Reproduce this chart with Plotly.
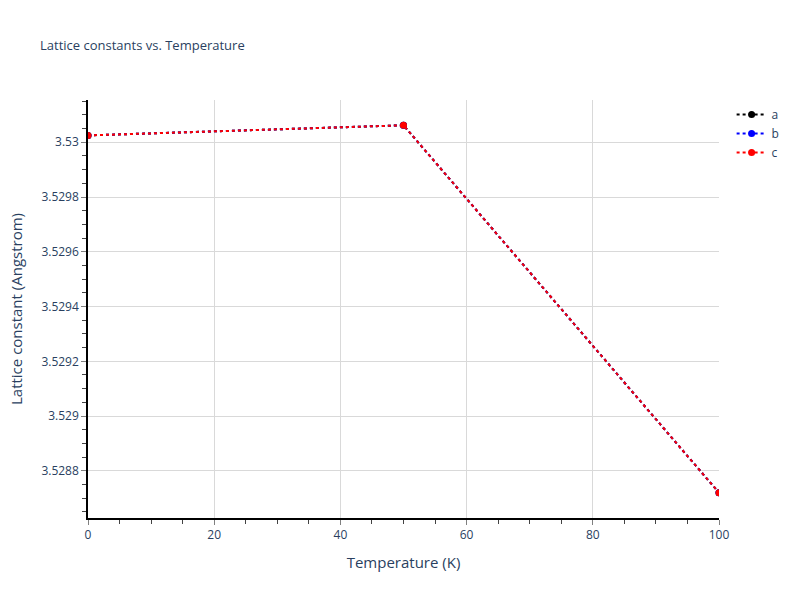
import plotly.graph_objs as go

# Data
temperatures = [0, 50, 100]
a_values = [3.530025, 3.530062, 3.528720]
b_values = [3.530025, 3.530062, 3.528720]
c_values = [3.530025, 3.530062, 3.528720]

series = [
    ("a", a_values, "black"),
    ("b", b_values, "blue"),
    ("c", c_values, "red"),
]

fig = go.Figure()
for name, values, color in series:
    fig.add_trace(go.Scatter(
        x=temperatures,
        y=values,
        mode="lines+markers",
        name=name,
        line=dict(color=color, dash="dot", width=2),
        marker=dict(color=color, size=7),
    ))

axis_style = dict(
    showline=True,
    linecolor="black",
    linewidth=1.5,
    ticks="outside",
    tickcolor="gray",
    ticklen=5,
    gridcolor="#d9d9d9",
    zeroline=False,
    title_font=dict(size=15),
)

fig.update_layout(
    template="plotly_white",
    width=800,
    height=600,
    margin=dict(l=88, r=81, t=100, b=82),
    title=dict(text="Lattice constants vs. Temperature", font=dict(size=13)),
    xaxis_title="Temperature (K)",
    yaxis_title="Lattice constant (Angstrom)",
)
fig.update_xaxes(**axis_style, range=[0, 100],
                 minor=dict(ticks="outside", dtick=5, ticklen=4, tickcolor="#444"))
fig.update_yaxes(**axis_style,
                 minor=dict(ticks="outside", dtick=0.00005, ticklen=4, tickcolor="#444"))

# page margin off so the chart sits at the window corner
fig.write_html("out.html", config={"displayModeBar": False},
               post_script="document.body.style.margin = '0';")
